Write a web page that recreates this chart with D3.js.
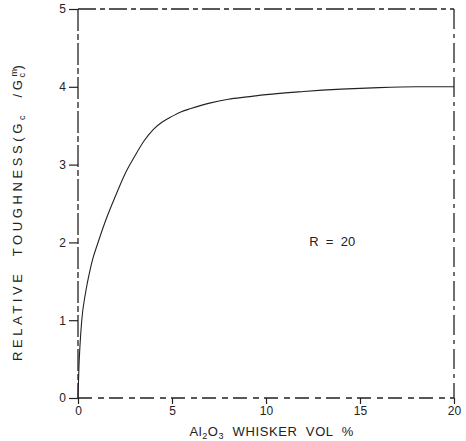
<!DOCTYPE html>
<html lang="en">
<head>
    <meta charset="UTF-8">
    <title>Relative toughness vs Al2O3 whisker vol %</title>
    <style>
        body {
            margin: 0;
            background: #fff;
            font-family: "Liberation Sans", Arial, sans-serif;
        }
        .frame {
            fill: none;
            stroke: #222;
            stroke-width: 1.3;
        }
        .tick-label {
            font-size: 12px;
            fill: #222;
        }
        .title {
            font-size: 13px;
            fill: #222;
        }
    </style>
</head>
<body>
    <svg id="chart" width="466" height="441"></svg>

    <script src="https://d3js.org/d3.v7.min.js"></script>
    <script>
        // whisker volume fraction (%) and relative toughness
        const whiskerVol = [0, 0.05, 0.1, 0.2, 0.4, 0.6, 0.8, 1, 1.5, 2, 2.5, 3, 3.5, 4, 4.5, 5, 5.5, 6, 7, 8, 9, 10, 12, 14, 16, 18, 20];
        const toughness = [0, 0.4, 0.65, 1.0, 1.35, 1.6, 1.8, 1.95, 2.3, 2.6, 2.88, 3.1, 3.3, 3.45, 3.55, 3.62, 3.68, 3.72, 3.79, 3.84, 3.87, 3.9, 3.94, 3.97, 3.99, 4.0, 4.0];
        const xTicks = [0, 5, 10, 15, 20];
        const yTicks = [0, 1, 2, 3, 4, 5];

        const svg = d3.select('#chart');
        const margin = { top: 9, right: 12, bottom: 43, left: 78 };
        const width = 466 - margin.left - margin.right;
        const height = 441 - margin.top - margin.bottom;

        const x = d3.scaleLinear().domain([0, 20]).range([margin.left, margin.left + width]);
        const y = d3.scaleLinear().domain([0, 5]).range([margin.top + height, margin.top]);

        // dashed box around the plot
        svg.append('line').attr('class', 'frame')
            .attr('x1', x(0)).attr('x2', x(20)).attr('y1', y(5)).attr('y2', y(5))
            .attr('stroke-dasharray', '18,4,5,4');
        svg.append('line').attr('class', 'frame')
            .attr('x1', x(20)).attr('x2', x(20)).attr('y1', y(5)).attr('y2', y(0))
            .attr('stroke-dasharray', '20,5,4,5');
        svg.append('line').attr('class', 'frame')
            .attr('x1', x(0)).attr('x2', x(20)).attr('y1', y(0)).attr('y2', y(0))
            .attr('stroke-dasharray', '14,6,6,5');
        svg.append('line').attr('class', 'frame')
            .attr('x1', x(0)).attr('x2', x(0)).attr('y1', y(5)).attr('y2', y(0))
            .attr('stroke-dasharray', '22,3,6,3');

        const yAxis = d3.axisLeft(y).tickValues(yTicks).tickSize(9).tickPadding(3).tickFormat(d3.format('d'));
        const xAxis = d3.axisBottom(x).tickValues(xTicks).tickSize(6).tickPadding(2).tickFormat(d3.format('d'));

        const gy = svg.append('g').attr('transform', `translate(${x(0)},0)`).call(yAxis);
        const gx = svg.append('g').attr('transform', `translate(0,${y(0)})`).call(xAxis);
        [gy, gx].forEach(g => {
            g.select('.domain').remove();
            g.selectAll('line').attr('stroke', '#222').attr('stroke-width', 1.2);
            g.selectAll('text').attr('class', 'tick-label').attr('font-family', null).attr('font-size', null);
        });

        // toughness curve
        const points = whiskerVol.map((v, i) => [v, toughness[i]]);
        svg.append('path')
            .datum(points)
            .attr('fill', 'none')
            .attr('stroke', '#222')
            .attr('stroke-width', 1.1)
            .attr('d', d3.line().x(d => x(d[0])).y(d => y(d[1])).curve(d3.curveMonotoneX));

        svg.append('text')
            .attr('x', x(12.3)).attr('y', y(1.95))
            .attr('font-size', 13).attr('fill', '#222')
            .attr('xml:space', 'preserve')
            .text('R  =  20');

        // x axis title
        const xt = svg.append('text').attr('class', 'title')
            .attr('x', x(10.3)).attr('y', 436).attr('text-anchor', 'middle')
            .attr('letter-spacing', 0.6);
        xt.append('tspan').text('Al');
        xt.append('tspan').attr('font-size', 9).attr('dy', 3).text('2');
        xt.append('tspan').attr('dy', -3).text('O');
        xt.append('tspan').attr('font-size', 9).attr('dy', 3).text('3');
        xt.append('tspan').attr('dy', -3).attr('xml:space', 'preserve').text('  WHISKER  VOL  %');

        // y axis title
        const yt = svg.append('text').attr('class', 'title')
            .attr('transform', `translate(22,${y(2.4)}) rotate(-90)`)
            .attr('text-anchor', 'middle')
            .attr('font-size', 14.5)
            .attr('letter-spacing', 3.6)
            .attr('xml:space', 'preserve');
        yt.append('tspan').text('RELATIVE  TOUGHNESS(G');
        yt.append('tspan').attr('font-size', 9).attr('dy', 3).text('c');
        yt.append('tspan').attr('dy', -3).text('  /G');
        yt.append('tspan').attr('font-size', 9).attr('dy', -5).text('m');
        yt.append('tspan').attr('font-size', 9).attr('dx', -12).attr('dy', 8).text('c');
        yt.append('tspan').attr('dy', -3).text(')');
    </script>
</body>
</html>
